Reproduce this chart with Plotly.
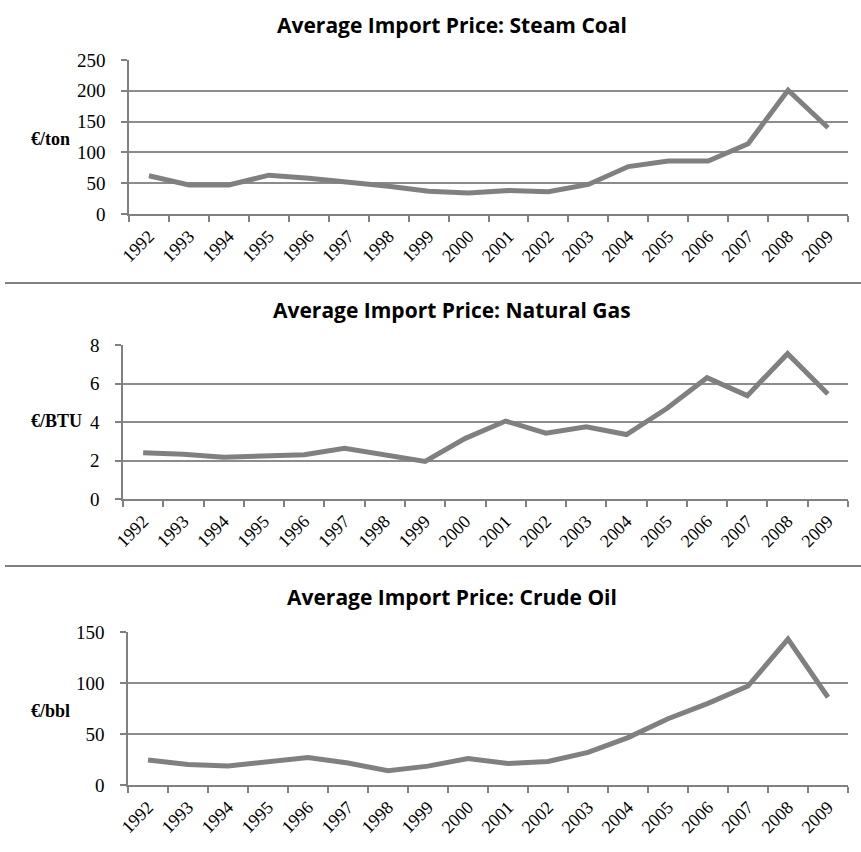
import plotly.graph_objects as go

years = [str(y) for y in range(1992, 2010)]
coal = [62, 47, 47, 63, 58, 52, 45, 37, 34, 38, 36, 48, 77, 86, 86, 114, 201, 140]
gas = [2.4, 2.32, 2.17, 2.22, 2.3, 2.63, 2.3, 1.95, 3.15, 4.05, 3.42, 3.75, 3.35, 4.7, 6.3, 5.37, 7.55, 5.45]
oil = [24.5, 20, 18.6, 23, 27, 21.5, 14, 18.5, 26, 21, 23, 32, 46.5, 65, 80, 97, 143, 86]

titles = ["Average Import Price: Steam Coal", "Average Import Price: Natural Gas", "Average Import Price: Crude Oil"]
units = ["€/ton", "€/BTU", "€/bbl"]
yranges = [[0, 250], [0, 8], [0, 150]]
ydticks = [50, 2, 50]
series = [coal, gas, oil]

W, H = 861, 852
# pixel geometry (left, right, top, bottom) of each plot area
boxes = [(129, 848, 60, 214), (123, 848, 345, 499), (128, 848, 632, 785)]
title_y = [25, 310, 597]
unit_y = [139, 421, 711]

GRAY = "#808080"
GRID = "#8c8c8c"
fig = go.Figure()
layout = dict(
    template="none",
    width=W, height=H, margin=dict(l=0, r=0, t=0, b=0, autoexpand=False),
    paper_bgcolor="white", plot_bgcolor="white", showlegend=False,
    annotations=[], shapes=[],
)
for i in range(3):
    l, r, t, b = boxes[i]
    xa = "xaxis" if i == 0 else f"xaxis{i+1}"
    ya = "yaxis" if i == 0 else f"yaxis{i+1}"
    fig.add_trace(go.Scatter(
        x=years, y=series[i], mode="lines",
        line=dict(color=GRAY, width=5),
        xaxis="x" if i == 0 else f"x{i+1}",
        yaxis="y" if i == 0 else f"y{i+1}",
        hoverinfo="skip",
    ))
    layout[xa] = dict(
        domain=[l / W, r / W], anchor="y" if i == 0 else f"y{i+1}",
        type="category", range=[-0.5, 17.5], tickson="boundaries",
        ticks="outside", ticklen=6, tickcolor=GRAY, tickwidth=1.5,
        showline=True, linecolor=GRAY, linewidth=1.5, showgrid=False, zeroline=False,
        tickangle=-45, tickfont=dict(family="Liberation Serif", size=18, color="black"),
        ticklabelstandoff=3,
        fixedrange=True, automargin=False,
    )
    layout[ya] = dict(
        domain=[1 - b / H, 1 - t / H], anchor="x" if i == 0 else f"x{i+1}",
        range=yranges[i], dtick=ydticks[i], tick0=0,
        ticks="outside", ticklen=6, tickcolor=GRAY, tickwidth=1.5,
        showline=True, linecolor=GRAY, linewidth=1.5,
        showgrid=True, gridcolor=GRID, gridwidth=1.5, zeroline=False,
        tickfont=dict(family="Liberation Serif", size=19, color="black"),
        ticklabelstandoff=12,
        fixedrange=True, automargin=False,
    )
    layout["annotations"].append(dict(
        text=f"<b>{titles[i]}</b>", x=452 / W, y=1 - title_y[i] / H,
        xref="paper", yref="paper", xanchor="center", yanchor="middle",
        showarrow=False, font=dict(family="Open Sans", size=21, color="black"),
    ))
    layout["annotations"].append(dict(
        text=f"<b>{units[i]}</b>", x=29 / W, y=1 - unit_y[i] / H,
        xref="paper", yref="paper", xanchor="left", yanchor="middle",
        showarrow=False, font=dict(family="Liberation Serif", size=18, color="black"),
    ))

for sy in [283, 566]:
    layout["shapes"].append(dict(
        type="line", xref="paper", yref="paper",
        x0=5 / W, x1=1, y0=1 - sy / H, y1=1 - sy / H,
        line=dict(color=GRAY, width=2),
    ))

fig.update_layout(**layout)
fig.write_html("out.html", config={"displayModeBar": False},
               post_script="document.body.style.margin='0';document.body.style.overflow='hidden';")
